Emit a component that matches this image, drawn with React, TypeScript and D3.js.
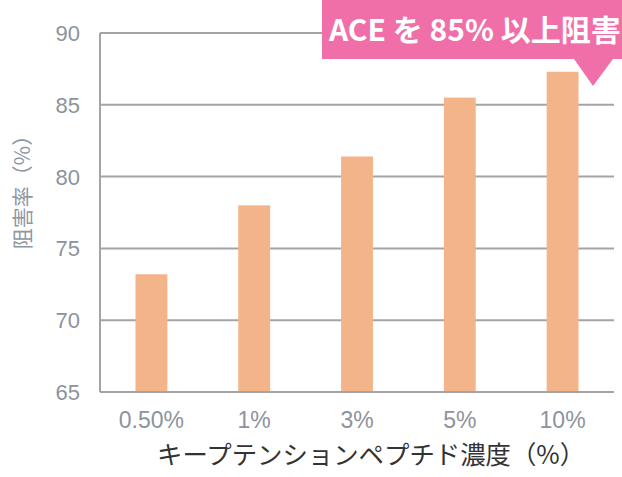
import React from "react";
import * as d3 from "d3";

const categories = ["0.50%", "1%", "3%", "5%", "10%"];
const values = [73.2, 78.0, 81.4, 85.5, 87.3];
const yTicks = [65, 70, 75, 80, 85, 90];
const yLabel = "阻害率（%）";
const xLabel = "キープテンションペプチド濃度（%）";
const calloutText = "ACE を 85% 以上阻害";

export default function App() {
  const W = 622, H = 477;
  const left = 100, right = 614, top = 33, bottom = 392;
  const x = d3.scaleBand<string>().domain(categories).range([left, right]).paddingInner(0.69).paddingOuter(0.345);
  const y = d3.scaleLinear().domain([65, 90]).range([bottom, top]);
  const grid = "#a3a4a8";
  const tickColor = "#8d939c";
  return (
    <svg width={W} height={H} style={{ position: "absolute", left: 0, top: 0, background: "#fff" }}>
      {yTicks.map((t) => (
        <g key={t}>
          <line x1={left} x2={right} y1={y(t)} y2={y(t)} stroke={grid} strokeWidth={2} />
          <text x={80} y={y(t)} dy="0.36em" textAnchor="end" fontFamily="Liberation Sans, Arial, sans-serif" fontSize={22} fill={tickColor}>{t}</text>
        </g>
      ))}
      <line x1={left} x2={left} y1={top} y2={bottom} stroke={grid} strokeWidth={2} />
      {categories.map((c, i) => (
        <g key={c}>
          <rect x={x(c)} y={y(values[i])} width={x.bandwidth()} height={bottom - y(values[i]) - 1} fill="#f4b48a" />
          <text x={(x(c) as number) + x.bandwidth() / 2} y={428} textAnchor="middle" fontFamily="Liberation Sans, Arial, sans-serif" fontSize={23} fill={tickColor}>{c}</text>
        </g>
      ))}
      <line x1={left} x2={right} y1={bottom} y2={bottom} stroke={grid} strokeWidth={2} />
      <text transform={`translate(30,187) rotate(-90)`} textAnchor="middle" fontFamily="Noto Sans CJK JP, sans-serif" fontSize={21} fill="#8f97a3">{yLabel}</text>
      <text x={157} y={464} textAnchor="start" fontFamily="Noto Sans CJK JP, sans-serif" fontSize={25.4} fill="#333">{xLabel}</text>
      <path d="M322,0 L622,0 L622,59 L613,59 L593,86 L574,59 L322,59 Z" fill="#f06fa9" />
      <text x={329} y={41} fontFamily="Noto Sans CJK JP, sans-serif" fontWeight="bold" fontSize={30} fill="#fff">{calloutText}</text>
    </svg>
  );
}
